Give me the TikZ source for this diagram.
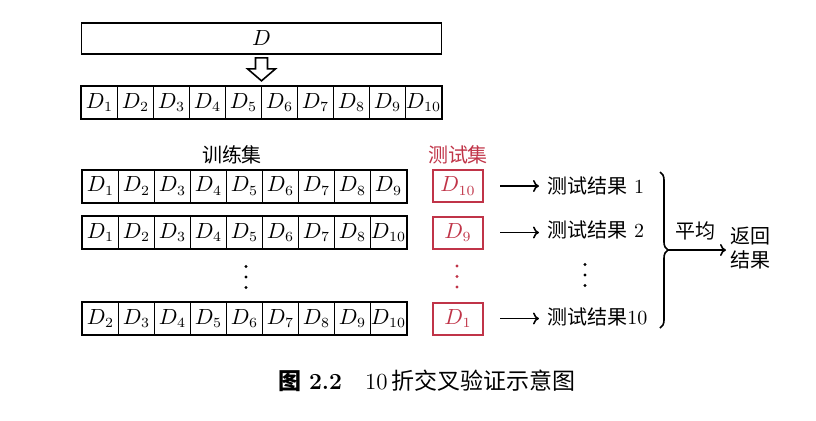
\documentclass[tikz,border=0pt]{standalone}
\usepackage{fontspec}
\newfontfamily\cjk{Noto Sans CJK SC}
\usetikzlibrary{arrows.meta,decorations.pathreplacing}
\definecolor{testred}{RGB}{192,52,72}
\begin{document}
\begin{tikzpicture}[x=0.5pt,y=-0.5pt,
  cell/.style={draw,line width=0.5pt,minimum width=18pt,minimum height=16pt,inner sep=0pt,font=\fontsize{10.5}{13}\selectfont},
  frame/.style={line width=1pt},
  testbox/.style={draw=testred,line width=1pt,minimum width=25pt,minimum height=16pt,inner sep=0pt,text=testred,font=\fontsize{10.5}{13}\selectfont},
  res/.style={anchor=west,inner sep=4pt},
  conn/.style={-{To[length=3pt,width=6pt]},line width=0.8pt}]
\useasboundingbox (0,0) rectangle (816,420);
% whole data set and its ten folds
\node[draw,line width=0.8pt,minimum width=180pt,minimum height=15.5pt,font=\fontsize{10.5}{13}\selectfont] (whole) at (261.5,38.5) {$D$};
\draw[line width=0.8pt,fill=white] ([shift={(-6,3)}]whole.south) -- ++(12,0) -- ++(0,11) -- ++(8,0) -- ++(-14,12) -- ++(-14,-12) -- ++(8,0) -- cycle;
\foreach \i in {1,...,10}
  \node[cell] (r\i) at ({81.5+36*\i-18},102.5) {$D_{\i}$};
\draw[frame] (r1.north west) rectangle (r10.south east);
% training sets
\node (train) at (232,155) {\cjk 训练集};
\foreach \i in {1,...,9}
  \node[cell] (a\i) at ({82.5+36*\i-18},186) {$D_{\i}$};
\draw[frame] (a1.north west) rectangle (a9.south east);
\foreach \j [count=\i] in {1,...,8,10}
  \node[cell] (b\i) at ({82.5+36*\i-18},232.5) {$D_{\j}$};
\draw[frame] (b1.north west) rectangle (b9.south east);
\foreach \j [count=\i] in {2,...,10}
  \node[cell] (c\i) at ({82.5+36*\i-18},318.5) {$D_{\j}$};
\draw[frame] (c1.north west) rectangle (c9.south east);
\foreach \k in {-1,0,1}
  \fill (246,{277+10.5*\k}) circle (0.8pt);
% test sets
\node[text=testred] (test) at (458,155) {\cjk 测试集};
\node[testbox] (ta) at (458,186) {$D_{10}$};
\node[testbox] (tb) at (458,232.5) {$D_{9}$};
\node[testbox] (tc) at (458,318.5) {$D_{1}$};
\foreach \k in {-1,0,1}
  \fill[testred] (457,{276.5+10.5*\k}) circle (0.8pt);
% results
\node[res] (resa) at (539,186) {{\cjk 测试结果} 1};
\node[res] (resb) at (539,230) {{\cjk 测试结果} 2};
\node[res] (resc) at (539,317) {{\cjk 测试结果}10};
\foreach \k in {-1,0,1}
  \fill (585,{275+10.5*\k}) circle (0.8pt);
\draw[conn] ([xshift=8pt]ta.east) -- (ta.east -| resa.west);
\draw[conn] ([xshift=8pt]tb.east) -- (tb.east -| resb.west);
\draw[conn] ([xshift=8pt]tc.east) -- (tc.east -| resc.west);
% average
\coordinate (btop) at (660,172);
\coordinate (bbot) at (660,328);
\coordinate (btip) at (668,250);
\draw[line width=0.8pt,decorate,decoration={brace,amplitude=4pt}] (btop) -- (bbot);
\node (avg) at (695,231) {\cjk 平均};
\node[anchor=west,align=center,font=\cjk,inner sep=2pt] (ret) at (726,248) {返回\\结果};
\draw[conn] (btip) -- (btip -| ret.west);
% caption
\node[font=\fontsize{11.5}{14}\selectfont] (cap) at (427,381) {{\cjk\bfseries 图}~{\bfseries 2.2}\quad 10\,{\cjk 折交叉验证示意图}};
\end{tikzpicture}
\end{document}
